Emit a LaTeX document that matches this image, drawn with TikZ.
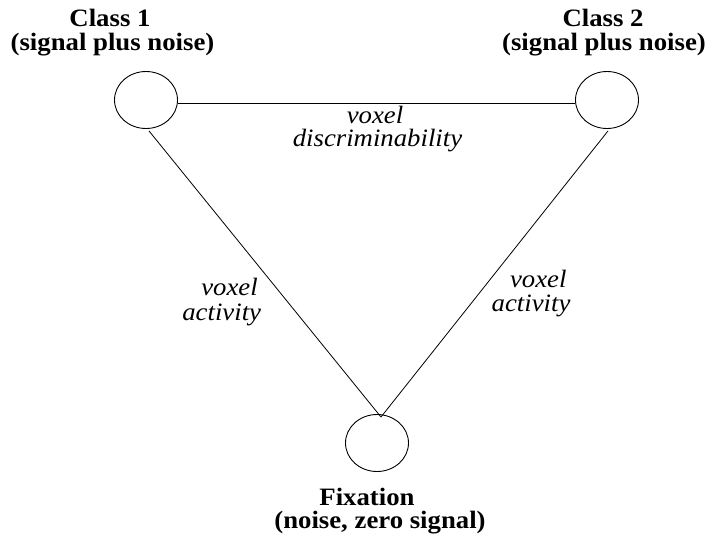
\documentclass[tikz,border=0pt]{standalone}
\usepackage{fontspec}
\setmainfont{Liberation Serif}
\usetikzlibrary{shapes.geometric}
\begin{document}
\begin{tikzpicture}[x=1pt,y=-1pt,
  cls/.style={draw,ellipse,minimum width=63pt,minimum height=57pt,inner sep=0pt,line width=0.9pt},
  ttl/.style={anchor=base,inner sep=0pt,font=\fontsize{25}{25}\selectfont\bfseries,xscale=1.07},
  lab/.style={anchor=base,inner sep=0pt,font=\fontsize{25}{25}\selectfont\itshape,xscale=1.07},
  conn/.style={line width=0.8pt}]
\useasboundingbox (0,0) rectangle (707,539);
\node[cls] (c1) at (146,100) {};
\node[cls] (c2) at (607,100) {};
\node[cls] (c3) at (377,443) {};
\coordinate (f) at (381,417);
\draw[conn] ([yshift=-3pt]c1.east) -- ([yshift=-3pt]c2.west);
\draw[conn] ([xshift=3pt,yshift=-2pt]c1.south) -- (f);
\draw[conn] ([xshift=1pt,yshift=-2pt]c2.south) -- (f);
\node[ttl] (t1a) at (110,26.7) {Class 1};
\node[ttl] (t1b) at (112.5,50) {(signal plus noise)};
\node[ttl] (t2a) at (603,26.7) {Class 2};
\node[ttl] (t2b) at (604,50) {(signal plus noise)};
\node[ttl] (t3a) at (367,505) {Fixation};
\node[ttl] (t3b) at (380,528.5) {(noise, zero signal)};
\node[lab] (l1a) at (375,123.3) {voxel};
\node[lab] (l1b) at (377.5,146.7) {discriminability};
\node[lab] (l2a) at (229.5,295.5) {voxel};
\node[lab] (l2b) at (221.7,320) {activity};
\node[lab] (l3a) at (538.3,287) {voxel};
\node[lab] (l3b) at (531,311.5) {activity};
\end{tikzpicture}
\end{document}
